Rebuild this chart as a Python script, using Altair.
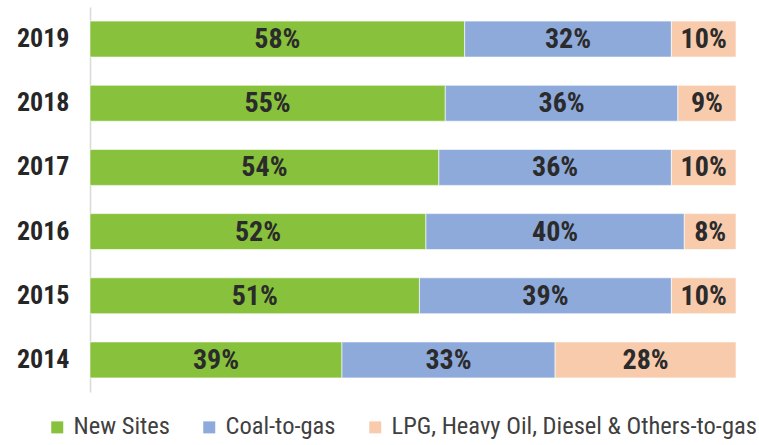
import altair as alt
import pandas as pd

years = ["2019", "2018", "2017", "2016", "2015", "2014"]
series = ["New Sites", "Coal-to-gas", "LPG, Heavy Oil, Diesel & Others-to-gas"]
new_sites = [58, 55, 54, 52, 51, 39]
coal = [32, 36, 36, 40, 39, 33]
lpg = [10, 9, 10, 8, 10, 28]
colors = ["#88C23C", "#8EAADB", "#F8CBAD"]

rows = []
for i, y in enumerate(years):
    for k, (s, vals) in enumerate(zip(series, [new_sites, coal, lpg])):
        rows.append({"year": y, "series": s, "order": k, "value": vals[i],
                     "label": f"{vals[i]}%"})
df = pd.DataFrame(rows)

FONT = "Liberation Sans Narrow, Arial Narrow, Roboto Condensed, Liberation Sans, sans-serif"

base = alt.Chart(df).transform_stack(
    stack="value", groupby=["year"], as_=["x0", "x1"], offset="normalize",
    sort=[alt.SortField("order", order="ascending")]
).transform_calculate(mid="(datum.x0 + datum.x1) / 2")

yenc = alt.Y("year:N", sort=years, title=None,
             scale=alt.Scale(paddingInner=0.44, paddingOuter=0.22),
             axis=alt.Axis(ticks=False, domainColor="#d9d9d9", domainWidth=1.5,
                           labelFont=FONT, labelFontSize=26, labelFontWeight="bold",
                           labelColor="#262626", labelPadding=21))

bars = base.mark_bar(stroke="white", strokeWidth=0.6).encode(
    x=alt.X("x0:Q", scale=alt.Scale(domain=[0, 1]), axis=None),
    x2="x1:Q",
    y=yenc,
    color=alt.Color("series:N", scale=alt.Scale(domain=series, range=colors),
                    legend=alt.Legend(title=None, orient="none", direction="horizontal",
                                      legendX=-45, legendY=408,
                                      symbolType="square", symbolSize=144,
                                      symbolStrokeWidth=0,
                                      labelFont=FONT, labelFontSize=24.5,
                                      labelColor="#404040", labelOffset=4,
                                      labelLimit=0, columnPadding=27)),
    order=alt.Order("order:Q"),
)

text = base.mark_text(font=FONT, fontSize=28, fontWeight="bold", color="#2b2b2b",
                      baseline="middle", dy=1).encode(
    x=alt.X("mid:Q", scale=alt.Scale(domain=[0, 1]), axis=None),
    y=alt.Y("year:N", sort=years),
    text="label:N",
)

chart = (bars + text).properties(
    width=646, height=385,
    padding={"left": 90, "top": 7, "right": 23, "bottom": 53},
    autosize=alt.AutoSizeParams(type="none"),
    background="white",
).configure_view(stroke=None)

chart.save("out.html", embed_options={"renderer": "svg", "actions": False})
